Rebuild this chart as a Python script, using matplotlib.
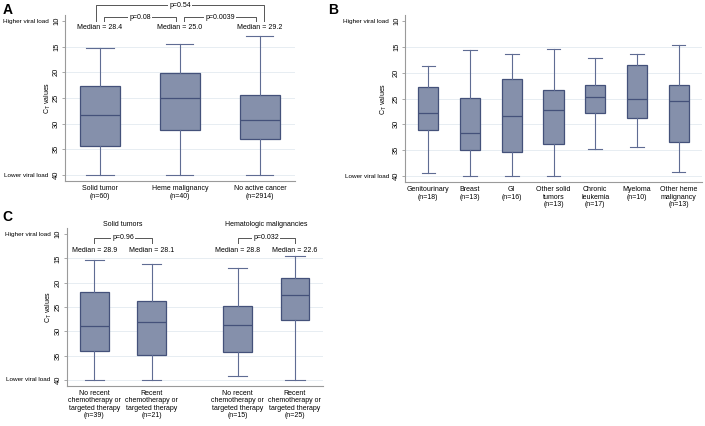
import matplotlib
matplotlib.use('Agg')
import matplotlib.pyplot as plt

plt.rcParams['font.family'] = ['Liberation Sans', 'DejaVu Sans']
plt.rcParams['mathtext.fontset'] = 'custom'
plt.rcParams['mathtext.rm'] = 'Liberation Sans'
plt.rcParams['mathtext.it'] = 'Liberation Sans:italic'

# ---------------- data ----------------
# Panel A
a_labels = ['Solid tumor\n(n=60)', 'Heme malignancy\n(n=40)', 'No active cancer\n(n=2914)']
a_top = [15.2, 14.4, 12.9]      # upper whisker end (lowest Ct)
a_q1 = [22.6, 20.2, 24.5]
a_med = [28.4, 25.0, 29.2]
a_q3 = [34.4, 31.3, 33.0]
a_bot = [40.0, 40.0, 40.0]
a_median_text = ['Median = 28.4', 'Median = 25.0', 'Median = 29.2']
a_pvals = ['p=0.08', 'p=0.0039', 'p=0.54']

# Panel B
b_labels = ['Genitourinary\n(n=18)', 'Breast\n(n=13)', 'GI\n(n=16)', 'Other solid\ntumors\n(n=13)',
            'Chronic\nleukemia\n(n=17)', 'Myeloma\n(n=10)', 'Other heme\nmalignancy\n(n=13)']
b_top = [18.7, 15.7, 16.3, 15.5, 17.2, 16.4, 14.7]
b_q1 = [22.8, 24.9, 21.2, 23.3, 22.4, 18.6, 22.3]
b_med = [27.9, 31.7, 28.3, 27.3, 24.8, 25.0, 25.4]
b_q3 = [31.0, 35.0, 35.3, 33.9, 27.9, 28.8, 33.4]
b_bot = [39.4, 40.0, 40.0, 40.0, 34.7, 34.3, 39.2]

# Panel C
c_labels = ['No recent\nchemotherapy or\ntargeted therapy\n(n=39)',
            'Recent\nchemotherapy or\ntargeted therapy\n(n=21)',
            'No recent\nchemotherapy or\ntargeted therapy\n(n=15)',
            'Recent\nchemotherapy or\ntargeted therapy\n(n=25)']
c_groups = ['Solid tumors', 'Hematologic malignancies']
c_top = [15.3, 16.2, 17.0, 14.6]
c_q1 = [22.0, 23.8, 24.8, 19.0]
c_med = [28.9, 28.1, 28.8, 22.6]
c_q3 = [34.1, 34.9, 34.2, 27.7]
c_bot = [40.0, 40.0, 39.2, 40.0]
c_median_text = ['Median = 28.9', 'Median = 28.1', 'Median = 28.8', 'Median = 22.6']
c_pvals = ['p=0.96', 'p=0.032']

yticks = [10, 15, 20, 25, 30, 35, 40]

# ---------------- style ----------------
FILL = '#8590ab'
EDGE = '#44517a'
WHISK = '#5f6c93'
GRID = '#e3eaf0'
SPINE = '#9a9a9a'
FS = 5

W, H = 705, 426
fig = plt.figure(figsize=(W / 100, H / 100), dpi=100)


def make_ax(left, right, top, bottom):
    return fig.add_axes([left / W, (H - bottom) / H, (right - left) / W, (bottom - top) / H])


def draw(ax, positions, top, q1, med, q3, bot, width, labels, xlim, ylab_px, ax_w):
    stats = [dict(whislo=t, q1=a, med=m, q3=b, whishi=bt, fliers=[])
             for t, a, m, b, bt in zip(top, q1, med, q3, bot)]
    ax.bxp(stats, positions=positions, widths=width, capwidths=width * 0.68,
           patch_artist=True, showfliers=False, manage_ticks=False,
           boxprops=dict(facecolor=FILL, edgecolor=EDGE, linewidth=0.9),
           whiskerprops=dict(color=WHISK, linewidth=0.8),
           capprops=dict(color=WHISK, linewidth=0.8),
           medianprops=dict(color=EDGE, linewidth=0.9))
    ax.set_xlim(*xlim)
    ax.set_ylim(41.2, 8.8)
    for v in yticks[1:]:
        ax.axhline(v, color=GRID, lw=0.6, zorder=0)
    ax.set_yticks(yticks)
    ax.set_yticklabels([str(v) for v in yticks], rotation=90, va='center', fontsize=5.4)
    ax.set_xticks(positions)
    ax.set_xticklabels(labels, fontsize=FS, linespacing=1.1)
    ax.tick_params(axis='x', length=0, pad=3)
    ax.tick_params(axis='y', length=2.5, width=0.6, color=SPINE, pad=1.0)
    for s in ['top', 'right']:
        ax.spines[s].set_visible(False)
    for s in ['left', 'bottom']:
        ax.spines[s].set_color(SPINE)
        ax.spines[s].set_linewidth(0.8)
    ax.set_ylabel('C$_\\mathregular{T}$ values', fontsize=FS, va='center')
    ax.yaxis.set_label_coords(-ylab_px / ax_w, 0.5)
    for val, txt in [(10, 'Higher viral load'), (40, 'Lower viral load')]:
        ax.annotate(txt, xy=(0, val), xycoords=('axes fraction', 'data'),
                    xytext=(-11.7, 0), textcoords='offset points',
                    ha='right', va='center', fontsize=4.6, annotation_clip=False)


def bracket(ax, x0, x1, yh, yl, text):
    ax.plot([x0, x0, x1, x1], [yl, yh, yh, yl], color='#555555', lw=0.7, clip_on=False)
    ax.text((x0 + x1) / 2, yh, text, ha='center', va='center', fontsize=FS,
            bbox=dict(facecolor='white', edgecolor='none', pad=0.8), clip_on=False)


# Panel A
axA = make_ax(65, 295, 14.84, 181.2)
posA = [1, 2, 3]
draw(axA, posA, a_top, a_q1, a_med, a_q3, a_bot, 0.5, a_labels, (0.5625, 3.44), 17, 230)
for p, t in zip(posA, a_median_text):
    axA.text(p, 11.3, t, ha='center', va='center', fontsize=FS, clip_on=False)
bracket(axA, 1.05, 1.95, 9.3, 10.0, a_pvals[0])
bracket(axA, 2.05, 2.95, 9.3, 10.0, a_pvals[1])
bracket(axA, 0.95, 3.05, 6.9, 10.0, a_pvals[2])

# Panel B
axB = make_ax(405, 702, 14.8, 182.2)
posB = list(range(1, 8))
draw(axB, posB, b_top, b_q1, b_med, b_q3, b_bot, 0.48, b_labels, (0.44, 7.56), 21, 297)

# Panel C
axC = make_ax(66.7, 322.7, 228.2, 385.8)
posC = [1, 2, 3.5, 4.5]
draw(axC, posC, c_top, c_q1, c_med, c_q3, c_bot, 0.5, c_labels, (0.516, 4.986), 17.7, 256)
for p, t in zip(posC, c_median_text):
    axC.text(p, 13.3, t, ha='center', va='center', fontsize=FS, clip_on=False)
bracket(axC, 1.0, 2.0, 10.8, 11.9, c_pvals[0])
bracket(axC, 3.5, 4.5, 10.8, 11.9, c_pvals[1])
axC.text(1.5, 7.95, c_groups[0], ha='center', va='center', fontsize=FS, clip_on=False)
axC.text(4.0, 7.95, c_groups[1], ha='center', va='center', fontsize=FS, clip_on=False)

# Panel letters
fig.text(2.5 / W, 1 - 3.5 / H, 'A', fontsize=10, fontweight='bold', ha='left', va='top')
fig.text(328 / W, 1 - 3.5 / H, 'B', fontsize=10, fontweight='bold', ha='left', va='top')
fig.text(2.5 / W, 1 - 209.5 / H, 'C', fontsize=10, fontweight='bold', ha='left', va='top')

fig.savefig('out.png', dpi=100)
